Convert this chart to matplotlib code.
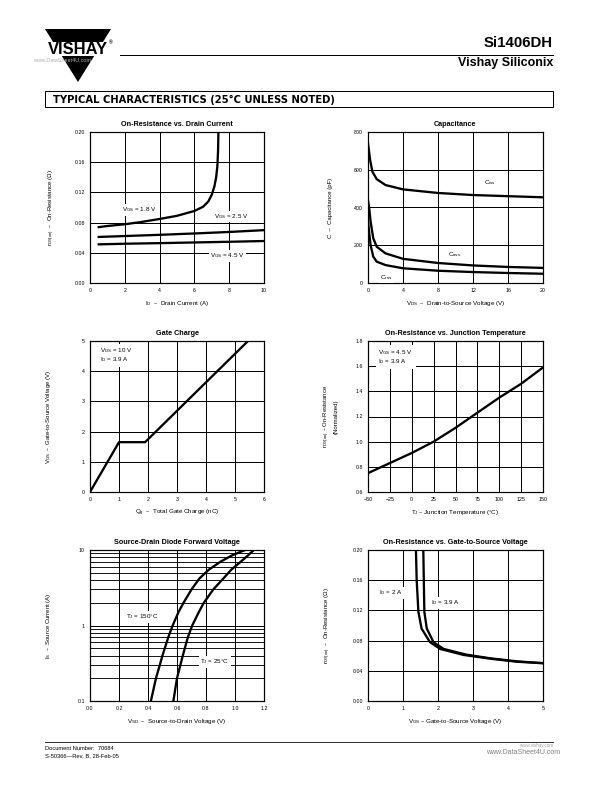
import matplotlib
matplotlib.use("Agg")
import matplotlib.pyplot as plt
from matplotlib.patches import Polygon, Rectangle
from matplotlib.ticker import FixedLocator, LogLocator, NullFormatter

plt.rcParams['font.family'] = ['Liberation Sans', 'DejaVu Sans']
plt.rcParams['mathtext.default'] = 'regular'

# On-Resistance vs. Drain Current
id_18 = [0.5, 1, 2, 3, 4, 5, 6, 6.5, 6.8, 7.0, 7.15, 7.25, 7.32, 7.36, 7.38]
ron_18 = [0.074, 0.0755, 0.0778, 0.081, 0.0848, 0.089, 0.0954, 0.101, 0.108,
          0.117, 0.128, 0.140, 0.155, 0.175, 0.200]
id_25 = [0.5, 2, 4, 6, 8, 10]
ron_25 = [0.061, 0.0622, 0.0638, 0.0656, 0.0676, 0.0700]
id_45 = [0.5, 2, 4, 6, 8, 10]
ron_45 = [0.0512, 0.052, 0.0528, 0.0537, 0.0546, 0.0556]

# Capacitance
vds_ciss = [0, 0.25, 0.5, 1, 2, 4, 8, 12, 16, 20]
ciss = [740, 650, 590, 550, 519, 496, 477, 466, 460, 454]
vds_c = [0, 0.15, 0.3, 0.6, 1, 2, 4, 8, 12, 16, 20]
coss = [440, 390, 325, 237, 192, 157, 128, 106, 93, 85, 80]
crss = [330, 260, 200, 140, 113, 95, 78, 65, 58, 53, 49]

# Gate charge
qg = [0, 1.0, 1.9, 5.45]
vgs_qg = [0, 1.65, 1.65, 5.0]

# On-resistance vs junction temperature
tj = [-50, -25, 0, 25, 50, 75, 100, 125, 150]
ron_norm = [0.75, 0.83, 0.91, 1.0, 1.11, 1.23, 1.35, 1.46, 1.59]

# Source-drain diode forward voltage
i_s = [0.1, 0.2, 0.4, 0.7, 1.0, 1.5, 2.0, 3.0, 4.2, 5.5, 7.0, 8.5, 10]
vsd_150 = [0.42, 0.455, 0.50, 0.54, 0.57, 0.61, 0.645, 0.70, 0.755, 0.82, 0.90, 0.98, 1.07]
vsd_25 = [0.575, 0.60, 0.64, 0.675, 0.705, 0.75, 0.785, 0.85, 0.92, 0.975, 1.04, 1.09, 1.13]

# On-resistance vs gate-to-source voltage
vgs_2a = [1.37, 1.39, 1.44, 1.53, 1.77, 2.06, 2.73, 3.5, 4.26, 5.0]
ron_2a = [0.20, 0.161, 0.118, 0.096, 0.078, 0.069, 0.061, 0.056, 0.052, 0.050]
vgs_39a = [1.58, 1.61, 1.68, 1.87, 2.16, 2.8, 3.5, 4.26, 5.0]
ron_39a = [0.20, 0.118, 0.096, 0.078, 0.069, 0.0615, 0.0565, 0.0525, 0.0502]

W, H = 612, 792
fig = plt.figure(figsize=(W / 72, H / 72), dpi=72)

# full page overlay in pixel coordinates for header / footer
ov = fig.add_axes([0, 0, 1, 1])
ov.set_xlim(0, W)
ov.set_ylim(H, 0)
ov.axis('off')

# Vishay logo
ov.add_patch(Polygon([[45, 29], [111, 29], [78, 82]], closed=True, color='black', lw=0))
ov.add_patch(Rectangle((40, 42), 76, 14, color='white', lw=0))
ov.text(78, 49.5, 'VISHAY', ha='center', va='center', fontsize=16.5, fontweight='bold')
ov.text(111, 43, '®', ha='center', va='center', fontsize=5, fontweight='bold')
ov.text(62, 60, 'www.DataSheet4U.com', ha='center', va='center', fontsize=5.5, color='#b0b0b0')
ov.plot([120, 553], [55, 55], color='black', lw=1.0)
ov.text(553, 43, 'Si1406DH', ha='right', va='center', fontsize=15, fontweight='bold')
ov.text(553, 63, 'Vishay Siliconix', ha='right', va='center', fontsize=12.5, fontweight='bold')

ov.add_patch(Rectangle((45, 91), 508, 16, facecolor='white', edgecolor='black', lw=1.0))
ov.text(53, 99.5, 'TYPICAL CHARACTERISTICS (25°C UNLESS NOTED)', ha='left', va='center',
        fontsize=10, fontweight='bold', family='DejaVu Sans')

# footer
ov.plot([45, 553], [742, 742], color='black', lw=0.8)
ov.text(45, 749, 'Document Number:  70684', ha='left', va='center', fontsize=5.8)
ov.text(45, 756, 'S-50366—Rev. B, 28-Feb-05', ha='left', va='center', fontsize=5.8)
ov.text(553, 746, 'www.vishay.com', ha='right', va='center', fontsize=4.5, color='#a0a0a0')
ov.text(560, 752, 'www.DataSheet4U.com', ha='right', va='center', fontsize=7, color='#808080')


def make_ax(l, t, r, b):
    ax = fig.add_axes([l / W, 1 - b / H, (r - l) / W, (b - t) / H])
    for s in ax.spines.values():
        s.set_linewidth(1.2)
    ax.tick_params(length=0, labelsize=5.3, pad=5)
    ax.grid(True, color='black', lw=1.0)
    ax.set_axisbelow(True)
    return ax


def finish(ax, title, xlabel, ylabel, ylab_x=-0.2):
    ax.set_title(title, fontsize=7.3, fontweight='bold', pad=6)
    ax.set_xlabel(xlabel, fontsize=6.3, labelpad=6)
    ax.set_ylabel(ylabel, fontsize=6)
    ax.yaxis.set_label_coords(ylab_x, 0.5)


box = dict(facecolor='white', edgecolor='none', pad=1.5)
lw = 2.3
fs = 6.2

# 1) On-Resistance vs. Drain Current
ax = make_ax(90, 132, 264, 283)
ax.plot(id_18, ron_18, color='black', lw=lw)
ax.plot(id_25, ron_25, color='black', lw=lw)
ax.plot(id_45, ron_45, color='black', lw=lw)
ax.set_xlim(0, 10)
ax.set_ylim(0, 0.20)
ax.set_xticks(range(0, 11, 2))
ax.set_yticks([0, 0.04, 0.08, 0.12, 0.16, 0.20])
ax.set_yticklabels(['0.00', '0.04', '0.08', '0.12', '0.16', '0.20'])
ax.text(2.85, 0.097, r'V$_{GS}$ = 1.8 V', fontsize=fs, ha='center', va='center', bbox=box)
ax.text(8.1, 0.088, r'V$_{GS}$ = 2.5 V', fontsize=fs, ha='center', va='center', bbox=box)
ax.text(7.9, 0.036, r'V$_{GS}$ = 4.5 V', fontsize=fs, ha='center', va='center', bbox=box)
finish(ax, 'On-Resistance vs. Drain Current', r'I$_D$  –  Drain Current (A)',
       r'r$_{DS(on)}$  –  On-Resistance ($\Omega$)', -0.19)

# 2) Capacitance
ax = make_ax(368, 132, 543, 283)
ax.plot(vds_ciss, ciss, color='black', lw=lw)
ax.plot(vds_c, coss, color='black', lw=lw)
ax.plot(vds_c, crss, color='black', lw=lw)
ax.set_xlim(0, 20)
ax.set_ylim(0, 800)
ax.set_xticks(range(0, 21, 4))
ax.set_yticks(range(0, 801, 200))
ax.text(13.9, 533, r'C$_{iss}$', fontsize=fs, ha='center', va='center', bbox=box)
ax.text(9.9, 152, r'C$_{oss}$', fontsize=fs, ha='center', va='center', bbox=box)
ax.text(2.1, 30, r'C$_{rss}$', fontsize=fs, ha='center', va='center', bbox=box)
finish(ax, 'Capacitance', r'V$_{DS}$  –  Drain-to-Source Voltage (V)',
       r'C  –  Capacitance (pF)', -0.2)

# 3) Gate Charge
ax = make_ax(90, 341, 264, 492)
ax.plot(qg, vgs_qg, color='black', lw=lw)
ax.set_xlim(0, 6)
ax.set_ylim(0, 5)
ax.set_xticks(range(0, 7))
ax.set_yticks(range(0, 6))
ax.text(0.33, 4.52, 'V$_{DS}$ = 10 V\nI$_D$ = 3.9 A', fontsize=fs, ha='left', va='center',
        linespacing=1.0, bbox=dict(facecolor='white', edgecolor='none', pad=3))
finish(ax, 'Gate Charge', r'Q$_g$  –  Total Gate Charge (nC)',
       r'V$_{GS}$  –  Gate-to-Source Voltage (V)', -0.21)

# 4) On-Resistance vs. Junction Temperature
ax = make_ax(368, 341, 543, 492)
ax.plot(tj, ron_norm, color='black', lw=lw)
ax.set_xlim(-50, 150)
ax.set_ylim(0.6, 1.8)
ax.set_xticks(range(-50, 151, 25))
ax.set_xticklabels(['−50', '−25', '0', '25', '50', '75', '100', '125', '150'])
ax.set_yticks([0.6, 0.8, 1.0, 1.2, 1.4, 1.6, 1.8])
ax.set_yticklabels(['0.6', '0.8', '1.0', '1.2', '1.4', '1.6', '1.8'])
ax.text(-38, 1.675, 'V$_{GS}$ = 4.5 V\nI$_D$ = 3.9 A', fontsize=fs, ha='left', va='center',
        linespacing=1.0, bbox=dict(facecolor='white', edgecolor='none', pad=3))
finish(ax, 'On-Resistance vs. Junction Temperature', r'T$_J$ – Junction Temperature (°C)',
       'r$_{DS(on)}$ – On-Resistance\n(Normalized)', -0.17)

# 5) Source-Drain Diode Forward Voltage
ax = make_ax(90, 550, 264, 701)
ax.set_yscale('log')
ax.plot(vsd_150, i_s, color='black', lw=lw)
ax.plot(vsd_25, i_s, color='black', lw=lw)
ax.set_xlim(0, 1.2)
ax.set_ylim(0.1, 10)
ax.set_xticks([0, 0.2, 0.4, 0.6, 0.8, 1.0, 1.2])
ax.set_xticklabels(['0.0', '0.2', '0.4', '0.6', '0.8', '1.0', '1.2'])
ax.yaxis.set_major_locator(FixedLocator([0.1, 1, 10]))
ax.set_yticklabels(['0.1', '1', '10'])
ax.yaxis.set_minor_locator(LogLocator(base=10, subs=range(2, 10)))
ax.yaxis.set_minor_formatter(NullFormatter())
ax.tick_params(which='minor', length=0)
ax.grid(True, which='minor', axis='y', color='black', lw=0.9)
ax.text(0.36, 1.3, r'T$_J$ = 150°C', fontsize=fs, ha='center', va='center', bbox=box)
ax.text(0.86, 0.33, r'T$_J$ = 25°C', fontsize=fs, ha='center', va='center', bbox=box)
finish(ax, 'Source-Drain Diode Forward Voltage', r'V$_{SD}$  –  Source-to-Drain Voltage (V)',
       r'I$_S$  –  Source Current (A)', -0.21)

# 6) On-Resistance vs. Gate-to-Source Voltage
ax = make_ax(368, 550, 543, 701)
ax.plot(vgs_2a, ron_2a, color='black', lw=lw)
ax.plot(vgs_39a, ron_39a, color='black', lw=lw)
ax.set_xlim(0, 5)
ax.set_ylim(0, 0.20)
ax.set_xticks(range(0, 6))
ax.set_yticks([0, 0.04, 0.08, 0.12, 0.16, 0.20])
ax.set_yticklabels(['0.00', '0.04', '0.08', '0.12', '0.16', '0.20'])
ax.text(0.65, 0.143, r'I$_D$ = 2 A', fontsize=fs, ha='center', va='center', bbox=box)
ax.text(2.2, 0.130, r'I$_D$ = 3.9 A', fontsize=fs, ha='center', va='center', bbox=box)
finish(ax, 'On-Resistance vs. Gate-to-Source Voltage', r'V$_{GS}$ – Gate-to-Source Voltage (V)',
       r'r$_{DS(on)}$  –  On-Resistance ($\Omega$)', -0.2)

fig.savefig('out.png', dpi=72)
